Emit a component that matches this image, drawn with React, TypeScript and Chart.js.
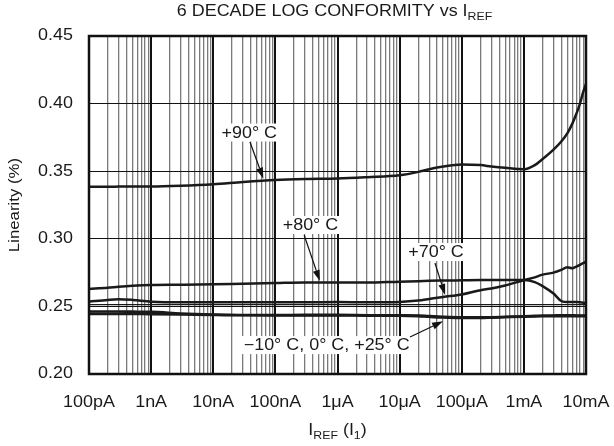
import React, { useEffect, useRef } from 'react';
import { Chart, registerables } from 'chart.js';

Chart.register(...registerables);

// Reference current (A)
const X_CURRENT = [
  1e-10, 2e-10, 3e-10, 5e-10, 1e-9, 3e-9, 1e-8, 3e-8, 1e-7, 3e-7, 1e-6, 3e-6,
  1e-5, 2e-5, 3e-5, 5e-5, 1e-4, 2e-4, 3e-4, 5e-4, 1e-3, 1.5e-3, 2e-3, 3e-3,
  4e-3, 5e-3, 6e-3, 7e-3, 8e-3, 9e-3, 1e-2,
];

const LIN_90C = [
  0.3385, 0.3385, 0.3386, 0.3387, 0.3387, 0.3392, 0.3403, 0.342, 0.3435, 0.3442, 0.3446, 0.3456,
  0.347, 0.3495, 0.3515, 0.3535, 0.355, 0.3545, 0.3535, 0.3525, 0.3515, 0.3545, 0.359, 0.366,
  0.372, 0.378, 0.385, 0.3925, 0.4, 0.4085, 0.4145,
];

const LIN_80C = [
  0.2629, 0.2638, 0.2645, 0.2652, 0.2658, 0.266, 0.2663, 0.2668, 0.2673, 0.2677, 0.2676, 0.2676,
  0.2683, 0.2686, 0.2689, 0.2691, 0.2693, 0.2695, 0.2695, 0.2695, 0.2695, 0.268, 0.265, 0.2595,
  0.254, 0.2532, 0.2533, 0.2532, 0.253, 0.2527, 0.2525,
];

const LIN_70C = [
  0.2535, 0.2548, 0.2553, 0.2548, 0.2535, 0.253, 0.253, 0.253, 0.253, 0.253, 0.2532, 0.253,
  0.2533, 0.2543, 0.2555, 0.257, 0.2588, 0.262, 0.2632, 0.2655, 0.2693, 0.2715, 0.2735, 0.275,
  0.277, 0.279, 0.2782, 0.2795, 0.2808, 0.282, 0.2832,
];

const LIN_25C = [
  0.2513, 0.2513, 0.2513, 0.2513, 0.2513, 0.2513, 0.2513, 0.2513, 0.2513, 0.2513, 0.2513, 0.2513,
  0.2513, 0.2513, 0.2513, 0.2513, 0.2513, 0.2513, 0.2513, 0.2513, 0.2513, 0.2513, 0.2513, 0.2513,
  0.2513, 0.2513, 0.2513, 0.2513, 0.2513, 0.2513, 0.2513,
];

const LIN_M10C = [
  0.2462, 0.2462, 0.2462, 0.2461, 0.246, 0.2448, 0.244, 0.2436, 0.2436, 0.2437, 0.2437, 0.2435,
  0.2434, 0.2432, 0.2428, 0.2424, 0.242, 0.2419, 0.242, 0.2423, 0.2427, 0.243, 0.2432, 0.2433,
  0.2434, 0.2434, 0.2434, 0.2433, 0.2433, 0.2433, 0.2433,
];

const LIN_0C = [
  0.2445, 0.2445, 0.2445, 0.2444, 0.2443, 0.244, 0.2436, 0.2434, 0.2433, 0.2433, 0.2433, 0.2432,
  0.2432, 0.2428, 0.2423, 0.2418, 0.2415, 0.2415, 0.2417, 0.242, 0.2424, 0.2426, 0.2427, 0.2428,
  0.2428, 0.2428, 0.2428, 0.2428, 0.2428, 0.2428, 0.2428,
];

const X_DECADES = [1e-10, 1e-9, 1e-8, 1e-7, 1e-6, 1e-5, 1e-4, 1e-3, 1e-2];
const X_TICK_LABELS = ['100pA', '1nA', '10nA', '100nA', '1\u03BCA', '10\u03BCA', '100\u03BCA', '1mA', '10mA'];
const MINOR_MULTS = [1, 2, 3, 4, 5, 6, 7, 8, 9];
const Y_TICKS = [0.2, 0.25, 0.3, 0.35, 0.4, 0.45];
const Y_TICK_LABELS = ['0.20', '0.25', '0.30', '0.35', '0.40', '0.45'];

const TITLE_PARTS = [
  { t: '6 DECADE LOG CONFORMITY vs I', sub: false },
  { t: 'REF', sub: true },
];
const X_TITLE_PARTS = [
  { t: 'I', sub: false },
  { t: 'REF', sub: true },
  { t: ' (I', sub: false },
  { t: '1', sub: true },
  { t: ')', sub: false },
];
const Y_TITLE = 'Linearity (%)';

// label centre (lx, ly), arrow start (sx, sy), arrow tip (tx, ty) in data units
const ANNOTATIONS = [
  { text: '+90\u00B0 C', lx: 3.8e-8, ly: 0.3786, sx: 3.9e-8, sy: 0.3716, tx: 6.4e-8, ty: 0.3445 },
  { text: '+80\u00B0 C', lx: 3.67e-7, ly: 0.3102, sx: 2.9e-7, sy: 0.3028, tx: 5.2e-7, ty: 0.2688 },
  { text: '+70\u00B0 C', lx: 3.85e-5, ly: 0.2902, sx: 3.7e-5, sy: 0.2821, tx: 5.4e-5, ty: 0.2584 },
  { text: '\u221210\u00B0 C, 0\u00B0 C, +25\u00B0 C', lx: 6.7e-7, ly: 0.2214, sx: 1.47e-5, sy: 0.2274, tx: 5.0e-5, ty: 0.239 },
];

const FONT = '"Liberation Sans", Arial, Helvetica, sans-serif';
const STRETCH = 1.12;
const TEXT_COLOR = '#1a1a1a';

function isDecade(v: number) {
  const l = Math.log10(v);
  return Math.abs(l - Math.round(l)) < 1e-6;
}

function drawStretched(
  ctx: CanvasRenderingContext2D,
  text: string,
  x: number,
  y: number,
  align: CanvasTextAlign,
  size: number,
) {
  ctx.save();
  ctx.font = `${size}px ${FONT}`;
  ctx.textAlign = align;
  ctx.textBaseline = 'middle';
  ctx.translate(x, y);
  ctx.scale(STRETCH, 1);
  ctx.fillText(text, 0, 0);
  ctx.restore();
}

function drawRich(ctx: CanvasRenderingContext2D, parts: { t: string; sub: boolean }[], cx: number, cy: number, size: number) {
  const subSize = Math.round(size * 0.7);
  let total = 0;
  const widths = parts.map((p) => {
    ctx.font = `${p.sub ? subSize : size}px ${FONT}`;
    const w = ctx.measureText(p.t).width * STRETCH;
    total += w;
    return w;
  });
  let x = cx - total / 2;
  parts.forEach((p, i) => {
    drawStretched(ctx, p.t, x, p.sub ? cy + size * 0.32 : cy, 'left', p.sub ? subSize : size);
    x += widths[i];
  });
}

const decoPlugin = {
  id: 'deco',
  afterDatasetsDraw(chart: any) {
    const ctx: CanvasRenderingContext2D = chart.ctx;
    const xs = chart.scales.x;
    const ys = chart.scales.y;
    ctx.save();
    for (const a of ANNOTATIONS) {
      const lx = xs.getPixelForValue(a.lx);
      const ly = ys.getPixelForValue(a.ly);
      ctx.font = `16px ${FONT}`;
      const w = ctx.measureText(a.text).width * STRETCH;
      ctx.fillStyle = '#fff';
      ctx.fillRect(lx - w / 2 - 3, ly - 9, w + 6, 18);
      const sx = xs.getPixelForValue(a.sx);
      const sy = ys.getPixelForValue(a.sy);
      const tx = xs.getPixelForValue(a.tx);
      const ty = ys.getPixelForValue(a.ty);
      const ang = Math.atan2(ty - sy, tx - sx);
      const hl = 11;
      const hw = 3.5;
      const bx = tx - hl * Math.cos(ang);
      const by = ty - hl * Math.sin(ang);
      ctx.strokeStyle = '#111';
      ctx.lineWidth = 1.2;
      ctx.beginPath();
      ctx.moveTo(sx, sy);
      ctx.lineTo(bx, by);
      ctx.stroke();
      ctx.fillStyle = '#111';
      ctx.beginPath();
      ctx.moveTo(tx, ty);
      ctx.lineTo(bx + hw * Math.sin(ang), by - hw * Math.cos(ang));
      ctx.lineTo(bx - hw * Math.sin(ang), by + hw * Math.cos(ang));
      ctx.closePath();
      ctx.fill();
      ctx.fillStyle = TEXT_COLOR;
      drawStretched(ctx, a.text, lx, ly + 1, 'center', 16);
    }
    ctx.restore();
  },
  afterDraw(chart: any) {
    const ctx: CanvasRenderingContext2D = chart.ctx;
    const xs = chart.scales.x;
    const ys = chart.scales.y;
    const { left, top, right, bottom } = chart.chartArea;
    ctx.save();
    ctx.strokeStyle = '#111';
    ctx.lineWidth = 2.5;
    ctx.strokeRect(left, top, right - left, bottom - top);
    ctx.fillStyle = TEXT_COLOR;
    // x tick labels
    X_DECADES.forEach((d, i) => {
      drawStretched(ctx, X_TICK_LABELS[i], xs.getPixelForValue(d), 403, 'center', 16);
    });
    // y tick labels
    Y_TICKS.forEach((v, i) => {
      drawStretched(ctx, Y_TICK_LABELS[i], 73, ys.getPixelForValue(v), 'right', 16);
    });
    // y title, rotated
    ctx.save();
    ctx.translate(15, (top + bottom) / 2);
    ctx.rotate(-Math.PI / 2);
    drawStretched(ctx, Y_TITLE, 0, 0, 'center', 15);
    ctx.restore();
    const cx = (left + right) / 2;
    drawRich(ctx, TITLE_PARTS, cx - 3, 12, 16);
    drawRich(ctx, X_TITLE_PARTS, cx, 431, 16);
    ctx.restore();
  },
};

export default function App() {
  const ref = useRef<HTMLCanvasElement | null>(null);
  useEffect(() => {
    if (!ref.current) return;
    const lineDs = (label: string, data: number[], w: number) => ({
      label,
      data: X_CURRENT.map((x, i) => ({ x, y: data[i] })),
      borderColor: '#1a1a1a',
      backgroundColor: '#1a1a1a',
      borderWidth: w,
      pointRadius: 0,
      cubicInterpolationMode: 'monotone' as const,
      fill: false,
    });
    const chart = new Chart(ref.current, {
      type: 'line',
      data: {
        datasets: [
          lineDs('+90°C', LIN_90C, 2.5),
          lineDs('+80°C', LIN_80C, 2.5),
          lineDs('+70°C', LIN_70C, 2.5),
          lineDs('+25°C', LIN_25C, 1.2),
          lineDs('-10°C', LIN_M10C, 2.6),
          lineDs('0°C', LIN_0C, 2.6),
        ],
      },
      options: {
        animation: false,
        responsive: false,
        devicePixelRatio: 1,
        layout: { padding: { left: 0, top: 36, right: 28, bottom: 0 } },
        plugins: { legend: { display: false }, tooltip: { enabled: false }, title: { display: false } },
        scales: {
          x: {
            type: 'logarithmic',
            min: 1e-10,
            max: 1e-2,
            afterBuildTicks: (s: any) => {
              const t: any[] = [];
              X_DECADES.forEach((d, i) => {
                if (i === X_DECADES.length - 1) {
                  t.push({ value: d });
                } else {
                  MINOR_MULTS.forEach((m) => t.push({ value: m * d }));
                }
              });
              s.ticks = t;
            },
            afterFit: (s: any) => {
              s.height = 72;
            },
            grid: {
              drawTicks: false,
              color: (c: any) => (c.tick && isDecade(c.tick.value) ? '#111' : '#7a7a7a'),
              lineWidth: (c: any) => (c.tick && isDecade(c.tick.value) ? 2 : 1.3),
            },
            border: { display: false },
            ticks: { display: false, autoSkip: false, maxRotation: 0 },
          },
          y: {
            type: 'linear',
            min: 0.2,
            max: 0.45,
            afterBuildTicks: (s: any) => {
              s.ticks = Y_TICKS.map((v) => ({ value: v }));
            },
            afterFit: (s: any) => {
              s.width = 89;
            },
            grid: { drawTicks: false, color: '#111', lineWidth: 1 },
            border: { display: false },
            ticks: { display: false },
            title: { display: false },
          },
        },
      },
      plugins: [decoPlugin],
    } as any);
    return () => chart.destroy();
  }, []);
  return (
    <div style={{ position: 'fixed', left: 0, top: 0, width: 614, height: 446, background: '#fff' }}>
      <canvas ref={ref} width={614} height={446} style={{ width: 614, height: 446, display: 'block' }} />
    </div>
  );
}
